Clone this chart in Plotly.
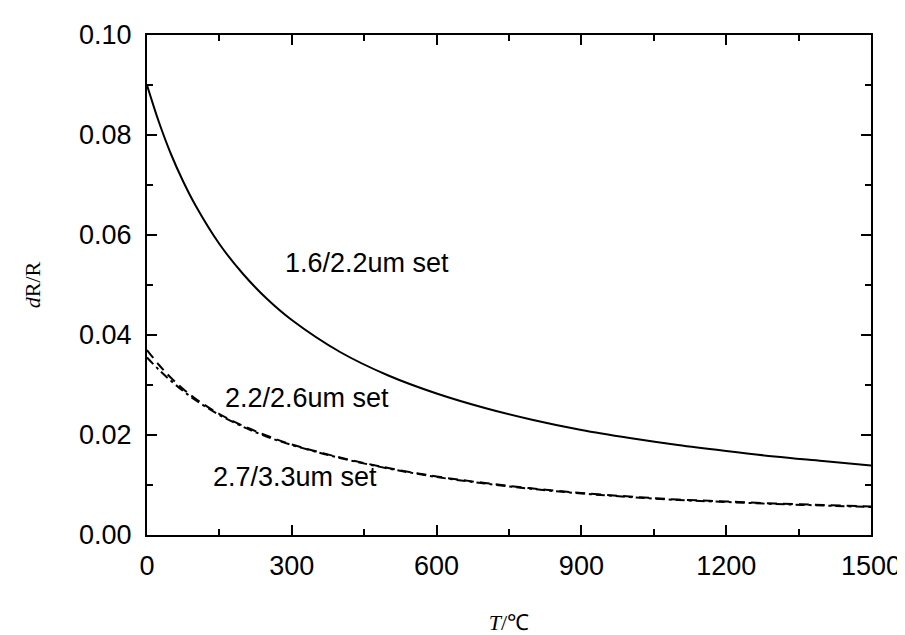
import plotly.graph_objects as go

# Temperature (°C)
T = [0, 25, 50, 75, 100, 150, 200, 250, 300, 400, 500, 600, 700, 800, 900, 1000, 1100, 1200, 1300, 1400, 1500]

# dR/R
set_16_22 = [0.0900, 0.0825, 0.0761, 0.0707, 0.0660, 0.0582, 0.0521, 0.0471, 0.0430, 0.0366, 0.0319,
             0.0283, 0.0254, 0.0230, 0.0210, 0.0194, 0.0180, 0.0168, 0.0157, 0.0148, 0.0139]
set_22_26 = [0.0370, 0.0340, 0.0314, 0.0292, 0.0273, 0.0242, 0.0218, 0.0198, 0.0181, 0.0155, 0.0134,
             0.0117, 0.0104, 0.0093, 0.0084, 0.0077, 0.0071, 0.0067, 0.0063, 0.0060, 0.0057]
set_27_33 = [0.0355, 0.0330, 0.0308, 0.0288, 0.0270, 0.0240, 0.0216, 0.0196, 0.0180, 0.0154, 0.0133,
             0.0116, 0.0103, 0.0092, 0.0083, 0.0076, 0.0070, 0.0066, 0.0062, 0.0059, 0.0056]

labels = ["1.6/2.2um set", "2.2/2.6um set", "2.7/3.3um set"]
label_x = [456, 331, 306]
label_y = [0.0544, 0.0274, 0.0116]

x_ticks = [0, 300, 600, 900, 1200, 1500]
y_ticks = [0.00, 0.02, 0.04, 0.06, 0.08, 0.10]

fig = go.Figure()
fig.add_trace(go.Scatter(x=T, y=set_16_22, mode="lines", line=dict(color="black", width=2, shape="spline"),
                         name=labels[0]))
fig.add_trace(go.Scatter(x=T, y=set_22_26, mode="lines",
                         line=dict(color="black", width=2, shape="spline", dash="10px,6px"), name=labels[1]))
fig.add_trace(go.Scatter(x=T, y=set_27_33, mode="lines",
                         line=dict(color="black", width=2, shape="spline", dash="9px,4px,3px,4px"), name=labels[2]))

for txt, xx, yy in zip(labels, label_x, label_y):
    fig.add_annotation(x=xx, y=yy, text=txt, showarrow=False,
                       font=dict(family="Liberation Sans, Arial", size=27, color="black"))

axis_common = dict(showline=True, linecolor="black", linewidth=2, mirror="ticks",
                   ticks="inside", ticklen=10, tickwidth=2, tickcolor="black",
                   showgrid=False, zeroline=False,
                   tickfont=dict(family="Liberation Sans, Arial", size=27, color="black"))

fig.update_xaxes(range=[0, 1500], tickvals=x_ticks, ticktext=[str(v) for v in x_ticks],
                 ticklabelstandoff=6,
                 minor=dict(ticks="inside", ticklen=6, tickwidth=2, tickcolor="black", dtick=150, tick0=0),
                 title=dict(text="<i>T</i>/℃", font=dict(family="Liberation Serif, Times New Roman", size=22, color="black"),
                            standoff=34),
                 **axis_common)
fig.update_yaxes(range=[0, 0.10], tickvals=y_ticks, ticktext=[f"{v:.2f}" for v in y_ticks],
                 ticklabelstandoff=8,
                 minor=dict(ticks="inside", ticklen=6, tickwidth=2, tickcolor="black", dtick=0.01, tick0=0),
                 title=dict(text="<i>d</i>R/R", font=dict(family="Liberation Serif, Times New Roman", size=22, color="black"),
                            standoff=32),
                 **axis_common)

fig.update_layout(width=905, height=635, margin=dict(l=139, r=36, t=21, b=96),
                  plot_bgcolor="white", paper_bgcolor="white", showlegend=False)

fig.write_html("out.html")
